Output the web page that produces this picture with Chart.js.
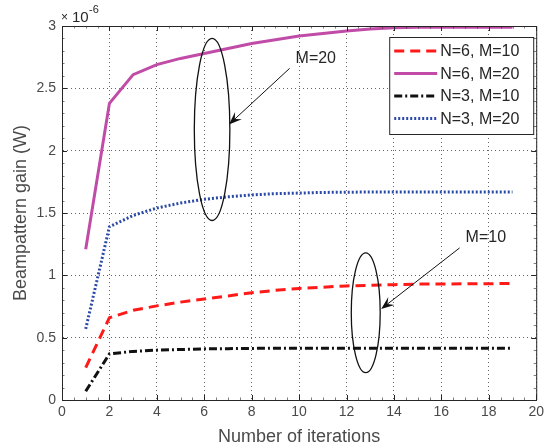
<!DOCTYPE html>
<html>
<head>
<meta charset="utf-8">
<script src="https://cdn.jsdelivr.net/npm/chart.js@4"></script>
<style>
  html, body { margin: 0; padding: 0; background: #fff; }
  #wrap { width: 548px; height: 448px; }
</style>
</head>
<body>
<div id="wrap"><canvas id="chart" width="548" height="448"></canvas></div>
<script>
// values in units of 1e-6 W
const iterations = [1, 2, 3, 4, 5, 6, 7, 8, 9, 10, 11, 12, 13, 14, 15, 16, 17, 18, 19];
const n6m10 = [0.26, 0.66, 0.72, 0.755, 0.785, 0.81, 0.835, 0.86, 0.88, 0.895, 0.905, 0.915, 0.92, 0.925, 0.93, 0.93, 0.932, 0.933, 0.935];
const n6m20 = [1.21, 2.38, 2.61, 2.69, 2.74, 2.78, 2.82, 2.86, 2.89, 2.92, 2.94, 2.96, 2.975, 2.985, 2.99, 2.99, 2.99, 2.99, 2.99];
const n3m10 = [0.07, 0.37, 0.39, 0.40, 0.405, 0.41, 0.412, 0.414, 0.415, 0.415, 0.415, 0.415, 0.415, 0.415, 0.415, 0.415, 0.415, 0.415, 0.415];
const n3m20 = [0.57, 1.39, 1.48, 1.54, 1.58, 1.61, 1.63, 1.645, 1.655, 1.66, 1.665, 1.667, 1.668, 1.668, 1.668, 1.668, 1.668, 1.668, 1.668];
const seriesLabels = ['N=6, M=10', 'N=6, M=20', 'N=3, M=10', 'N=3, M=20'];
const xTicks = [0, 2, 4, 6, 8, 10, 12, 14, 16, 18, 20];
const yTicks = [0, 0.5, 1, 1.5, 2, 2.5, 3];

// annotation ellipses / arrows, in data coordinates
const ellipses = [
  { cx: 6.33, cy: 2.17, rx: 0.75, ry: 0.73 },
  { cx: 12.81, cy: 0.70, rx: 0.61, ry: 0.48 }
];
const arrows = [
  { from: [9.60, 2.66], to: [7.04, 2.21], text: 'M=20', tx: 9.85, ty: 2.74 },
  { from: [16.77, 1.22], to: [13.46, 0.73], text: 'M=10', tx: 17.02, ty: 1.30 }
];

const FONT = "'Liberation Sans', Arial, sans-serif";
const TXT = '#262626';

function toPts(ys) {
  return ys.map((y, i) => ({ x: iterations[i], y: y }));
}

const datasets = [
  { label: seriesLabels[0], data: toPts(n6m10), borderColor: '#ff1a1a', borderWidth: 3, borderDash: [10, 6] },
  { label: seriesLabels[1], data: toPts(n6m20), borderColor: '#c04ca8', borderWidth: 3, borderDash: [] },
  { label: seriesLabels[2], data: toPts(n3m10), borderColor: '#111111', borderWidth: 3, borderDash: [8, 3, 2, 3] },
  { label: seriesLabels[3], data: toPts(n3m20), borderColor: '#2b4aa8', borderWidth: 3, borderDash: [2, 2] }
].map(d => Object.assign(d, { pointRadius: 0, fill: false, tension: 0 }));

const decor = {
  id: 'decor',
  afterDatasetsDraw(chart) {
    const ctx = chart.ctx;
    const a = chart.chartArea;
    const xs = chart.scales.x, ys = chart.scales.y;
    ctx.save();

    // box top/right
    ctx.strokeStyle = TXT;
    ctx.lineWidth = 1;
    ctx.setLineDash([]);
    ctx.beginPath();
    ctx.moveTo(a.left, a.top + 0.5);
    ctx.lineTo(a.right + 0.5, a.top + 0.5);
    ctx.lineTo(a.right + 0.5, a.bottom);
    ctx.stroke();

    // inner ticks
    ctx.beginPath();
    xTicks.forEach(v => {
      const px = Math.round(xs.getPixelForValue(v)) + 0.5;
      ctx.moveTo(px, a.bottom); ctx.lineTo(px, a.bottom - 5);
      ctx.moveTo(px, a.top); ctx.lineTo(px, a.top + 5);
    });
    yTicks.forEach(v => {
      const py = Math.round(ys.getPixelForValue(v)) + 0.5;
      ctx.moveTo(a.left, py); ctx.lineTo(a.left + 5, py);
      ctx.moveTo(a.right, py); ctx.lineTo(a.right - 5, py);
    });
    ctx.stroke();
    // minor ticks
    ctx.lineWidth = 0.6;
    ctx.beginPath();
    for (let v = 0; v <= 3.001; v += 0.1) {
      const py = Math.round(ys.getPixelForValue(v)) + 0.5;
      ctx.moveTo(a.left, py); ctx.lineTo(a.left + 2.5, py);
      ctx.moveTo(a.right, py); ctx.lineTo(a.right - 2.5, py);
    }
    for (let v = 0; v <= 20.001; v += 0.5) {
      const px = Math.round(xs.getPixelForValue(v)) + 0.5;
      ctx.moveTo(px, a.bottom); ctx.lineTo(px, a.bottom - 2.5);
      ctx.moveTo(px, a.top); ctx.lineTo(px, a.top + 2.5);
    }
    ctx.stroke();

    // ellipses
    ctx.strokeStyle = '#111';
    ctx.lineWidth = 1.3;
    ellipses.forEach(e => {
      const cx = xs.getPixelForValue(e.cx), cy = ys.getPixelForValue(e.cy);
      const rx = xs.getPixelForValue(e.cx + e.rx) - cx;
      const ry = cy - ys.getPixelForValue(e.cy + e.ry);
      ctx.beginPath();
      ctx.ellipse(cx, cy, rx, ry, 0, 0, Math.PI * 2);
      ctx.stroke();
    });

    // arrows + labels
    arrows.forEach(ar => {
      const x1 = xs.getPixelForValue(ar.from[0]), y1 = ys.getPixelForValue(ar.from[1]);
      const x2 = xs.getPixelForValue(ar.to[0]), y2 = ys.getPixelForValue(ar.to[1]);
      const ang = Math.atan2(y2 - y1, x2 - x1);
      ctx.lineWidth = 1;
      ctx.strokeStyle = '#111';
      ctx.beginPath();
      ctx.moveTo(x1, y1);
      ctx.lineTo(x2 - 8 * Math.cos(ang), y2 - 8 * Math.sin(ang));
      ctx.stroke();
      const len = 13, w = 5;
      ctx.fillStyle = '#111';
      ctx.beginPath();
      ctx.moveTo(x2, y2);
      ctx.lineTo(x2 - len * Math.cos(ang) + w * Math.sin(ang), y2 - len * Math.sin(ang) - w * Math.cos(ang));
      ctx.lineTo(x2 - 8 * Math.cos(ang), y2 - 8 * Math.sin(ang));
      ctx.lineTo(x2 - len * Math.cos(ang) - w * Math.sin(ang), y2 - len * Math.sin(ang) + w * Math.cos(ang));
      ctx.closePath();
      ctx.fill();
      ctx.fillStyle = TXT;
      ctx.font = '16px ' + FONT;
      ctx.textAlign = 'left';
      ctx.textBaseline = 'middle';
      ctx.fillText(ar.text, xs.getPixelForValue(ar.tx), ys.getPixelForValue(ar.ty));
    });

    // legend box
    const lx = a.right - 147, ly = a.top + 11, lw = 144, lh = 97;
    ctx.fillStyle = '#fff';
    ctx.fillRect(lx, ly, lw, lh);
    ctx.strokeStyle = '#262626';
    ctx.lineWidth = 1;
    ctx.setLineDash([]);
    ctx.strokeRect(lx + 0.5, ly + 0.5, lw, lh);
    chart.data.datasets.forEach((ds, i) => {
      const yy = ly + 14 + i * 22.5;
      ctx.strokeStyle = ds.borderColor;
      ctx.lineWidth = ds.borderWidth;
      ctx.setLineDash(ds.borderDash);
      ctx.beginPath();
      ctx.moveTo(lx + 5, yy);
      ctx.lineTo(lx + 48, yy);
      ctx.stroke();
      ctx.setLineDash([]);
      ctx.fillStyle = TXT;
      ctx.font = '16px ' + FONT;
      ctx.textAlign = 'left';
      ctx.textBaseline = 'middle';
      ctx.fillText(ds.label, lx + 51, yy + 1);
    });

    // exponent
    ctx.fillStyle = TXT;
    ctx.textBaseline = 'alphabetic';
    ctx.font = '12px ' + FONT;
    ctx.fillText('\u00d7', a.left - 1, 21);
    ctx.font = '15px ' + FONT;
    ctx.fillText('10', a.left + 10, 22);
    ctx.font = '11px ' + FONT;
    ctx.fillText('-6', a.left + 27, 13);
    ctx.restore();
  }
};

new Chart(document.getElementById('chart'), {
  type: 'line',
  data: { datasets: datasets },
  options: {
    responsive: false,
    animation: false,
    layout: { padding: { top: 26, right: 8, left: 0, bottom: 0 } },
    plugins: { legend: { display: false }, tooltip: { enabled: false } },
    scales: {
      x: {
        type: 'linear',
        min: 0, max: 20,
        afterBuildTicks: s => { s.ticks = xTicks.map(v => ({ value: v })); },
        afterFit: s => { s.height = 48; },
        ticks: { color: '#4a4a4a', font: { family: FONT, size: 14 }, padding: 4, maxRotation: 0 },
        grid: { color: '#666', lineWidth: 1, drawTicks: false },
        border: { color: TXT, width: 1, dash: [1, 3] },
        title: { display: true, text: 'Number of iterations', color: '#4a4a4a', font: { family: FONT, size: 18 }, padding: { top: 0, bottom: 0 } }
      },
      y: {
        min: 0, max: 3,
        afterBuildTicks: s => { s.ticks = yTicks.map(v => ({ value: v })); },
        afterFit: s => { s.width = 62; },
        ticks: { color: '#4a4a4a', font: { family: FONT, size: 14 }, padding: 6, callback: v => String(v) },
        grid: { color: '#666', lineWidth: 1, drawTicks: false },
        border: { color: TXT, width: 1, dash: [1, 3] },
        title: { display: true, text: 'Beampattern gain (W)', color: '#4a4a4a', font: { family: FONT, size: 18 }, padding: { top: 10, bottom: 0 } }
      }
    }
  },
  plugins: [decor]
});
</script>
</body>
</html>
